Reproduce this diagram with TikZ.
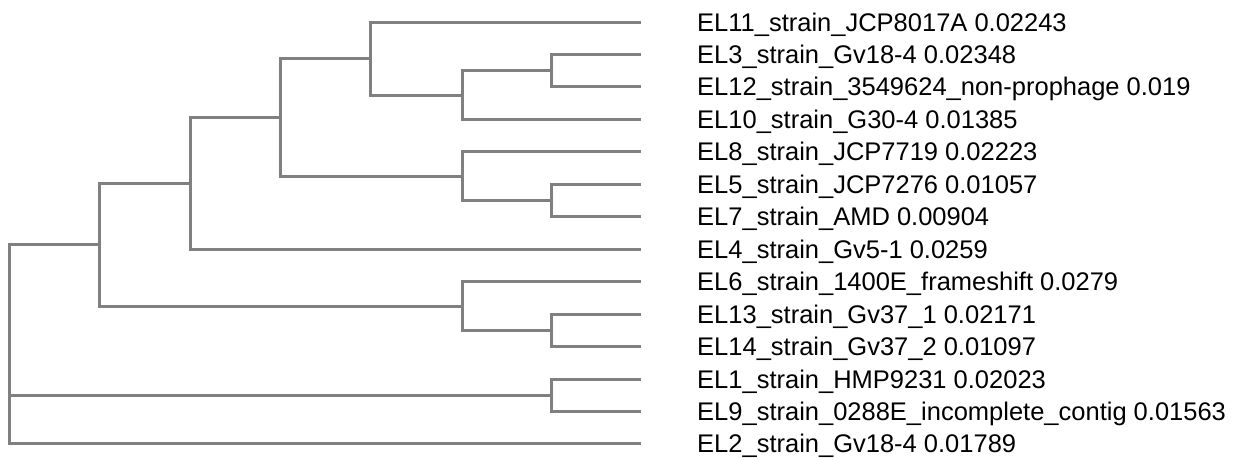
\documentclass[tikz,border=0pt]{standalone}
\usepackage{fontspec}
\setmainfont{Liberation Sans}
\definecolor{treegray}{HTML}{808080}
\begin{document}
\begin{tikzpicture}[x=1pt,y=-1pt,
  branch/.style={draw=treegray,line width=3pt},
  taxon/.style={anchor=base west,inner sep=0pt,text=black,
    font=\fontsize{25.5}{30}\selectfont}]
\useasboundingbox (0,0) rectangle (1242,459);
% leaf tips and their labels
\foreach \i/\lab in {
  0/EL11\_strain\_JCP8017A 0.02243,
  1/EL3\_strain\_Gv18-4 0.02348,
  2/EL12\_strain\_3549624\_non-prophage 0.019,
  3/EL10\_strain\_G30-4 0.01385,
  4/EL8\_strain\_JCP7719 0.02223,
  5/EL5\_strain\_JCP7276 0.01057,
  6/EL7\_strain\_AMD 0.00904,
  7/EL4\_strain\_Gv5-1 0.0259,
  8/EL6\_strain\_1400E\_frameshift 0.0279,
  9/EL13\_strain\_Gv37\_1 0.02171,
  10/EL14\_strain\_Gv37\_2 0.01097,
  11/EL1\_strain\_HMP9231 0.02023,
  12/EL9\_strain\_0288E\_incomplete\_contig 0.01563,
  13/EL2\_strain\_Gv18-4 0.01789}{
  \coordinate (l\i) at (641,{22+32.46*\i});
  \node[taxon] (t\i) at (697,{31+32.46*\i}) {\lab};
}
% internal nodes
\coordinate (A) at (551,70.7);
\coordinate (B) at (462,95);
\coordinate (C) at (370,58.5);
\coordinate (D) at (551,200.5);
\coordinate (E) at (462,176);
\coordinate (F) at (280,117);
\coordinate (G) at (190,183);
\coordinate (H) at (551,330);
\coordinate (I) at (462,306);
\coordinate (J) at (99,244.5);
\coordinate (K) at (551,395);
\coordinate (R) at (9.5,344);
% branches
\draw[branch] (A) |- (l1) (A) |- (l2);
\draw[branch] (B) |- (A) (B) |- (l3);
\draw[branch] (C) |- (l0) (C) |- (B);
\draw[branch] (D) |- (l5) (D) |- (l6);
\draw[branch] (E) |- (l4) (E) |- (D);
\draw[branch] (F) |- (C) (F) |- (E);
\draw[branch] (G) |- (F) (G) |- (l7);
\draw[branch] (H) |- (l9) (H) |- (l10);
\draw[branch] (I) |- (l8) (I) |- (H);
\draw[branch] (J) |- (G) (J) |- (I);
\draw[branch] (K) |- (l11) (K) |- (l12);
\draw[branch] (R) |- (J) (R) |- (K) (R) |- (l13);
\end{tikzpicture}
\end{document}
